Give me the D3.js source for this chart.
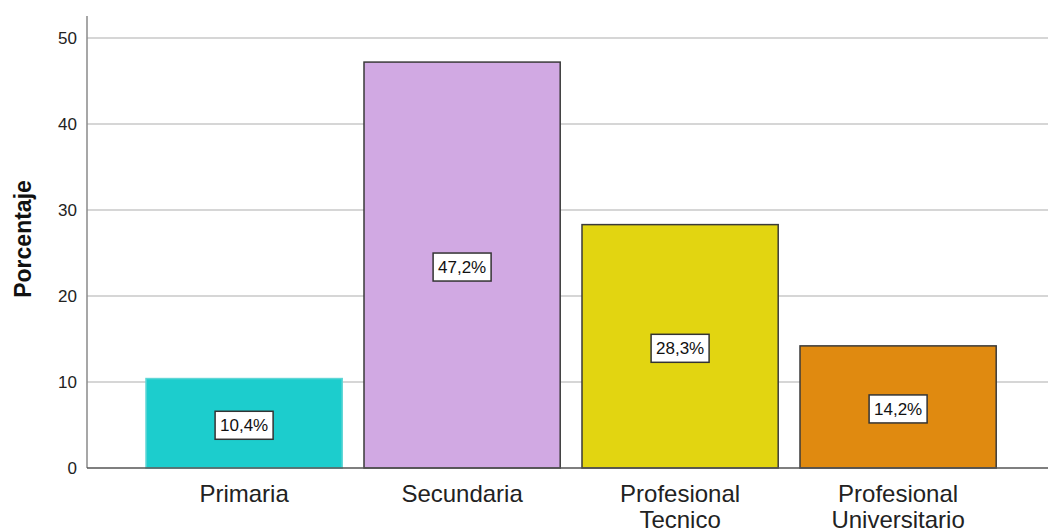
<!DOCTYPE html>
<head>
  <meta charset="utf-8">
  <script src="https://d3js.org/d3.v7.min.js"></script>
  <style>
    body { margin: 0; background: #fff; font-family: Arial, "Liberation Sans", sans-serif; }
    .tick text { font-size: 17px; fill: #222; }
    .grid line { stroke: #c8c8c8; stroke-width: 1.5px; }
    .cat { font-size: 24px; fill: #222; }
    .val { font-size: 17px; fill: #111; }
  </style>
</head>
<body>
  <div id="vis"></div>
  <script>
    // data
    var categories = [["Primaria"], ["Secundaria"], ["Profesional", "Tecnico"], ["Profesional", "Universitario"]];
    var values = [10.4, 47.2, 28.3, 14.2];
    var valueLabels = ["10,4%", "47,2%", "28,3%", "14,2%"];
    var colors = ["#1ccdcd", "#d1a9e3", "#e2d511", "#e08a10"];
    var strokes = ["#5fd6d6", "#3a3a3a", "#3a3a3a", "#3a3a3a"];
    var yTicks = [0, 10, 20, 30, 40, 50];

    var width = 1048, height = 529;
    var svg = d3.select("#vis").append("svg")
      .attr("width", width).attr("height", height);

    var x = d3.scaleBand()
      .domain(d3.range(values.length))
      .range([124.2, 1018])
      .paddingInner(0.1)
      .paddingOuter(0.1);

    var y = d3.scaleLinear()
      .domain([0, 50])
      .range([468, 38]);

    // grid
    svg.append("g").attr("class", "grid")
      .selectAll("line")
      .data(yTicks.slice(1))
      .enter().append("line")
      .attr("x1", 87).attr("x2", width)
      .attr("y1", function (d) { return y(d); })
      .attr("y2", function (d) { return y(d); });

    // y axis
    var yAxis = svg.append("g")
      .attr("transform", "translate(87,0)")
      .call(d3.axisLeft(y).tickValues(yTicks).tickSize(0).tickPadding(10));
    yAxis.select(".domain").remove();
    yAxis.selectAll(".tick text").attr("font-family", "Arial, 'Liberation Sans', sans-serif");

    svg.append("line")
      .attr("x1", 87).attr("x2", 87)
      .attr("y1", 16).attr("y2", 468)
      .attr("stroke", "#8a8a8a").attr("stroke-width", 1.5);

    // bars
    svg.selectAll(".bar")
      .data(values)
      .enter().append("rect")
      .attr("class", "bar")
      .attr("x", function (d, i) { return x(i); })
      .attr("y", function (d) { return y(d); })
      .attr("width", x.bandwidth())
      .attr("height", function (d) { return y(0) - y(d); })
      .attr("fill", function (d, i) { return colors[i]; })
      .attr("stroke", function (d, i) { return strokes[i]; })
      .attr("stroke-width", 1.5);

    // baseline
    svg.append("line")
      .attr("x1", 87).attr("x2", width)
      .attr("y1", y(0)).attr("y2", y(0))
      .attr("stroke", "#555").attr("stroke-width", 1.5);

    // value labels
    var vl = svg.selectAll(".vlab")
      .data(values)
      .enter().append("g")
      .attr("class", "vlab")
      .attr("transform", function (d, i) {
        return "translate(" + (x(i) + x.bandwidth() / 2) + "," + (y(d / 2) + 2) + ")";
      });
    vl.append("rect")
      .attr("x", -29).attr("y", -14)
      .attr("width", 58).attr("height", 28)
      .attr("fill", "#fff")
      .attr("stroke", "#333").attr("stroke-width", 1.5);
    vl.append("text")
      .attr("class", "val")
      .attr("text-anchor", "middle")
      .attr("dy", "0.36em")
      .text(function (d, i) { return valueLabels[i]; });

    // category labels
    var cl = svg.selectAll(".cat")
      .data(categories)
      .enter().append("text")
      .attr("class", "cat")
      .attr("text-anchor", "middle")
      .attr("x", function (d, i) { return x(i) + x.bandwidth() / 2; })
      .attr("y", 502);
    cl.selectAll("tspan")
      .data(function (d) { return d; })
      .enter().append("tspan")
      .attr("x", function () { return this.parentNode.getAttribute("x"); })
      .attr("dy", function (d, i) { return i === 0 ? 0 : 26; })
      .text(function (d) { return d; });

    // y title
    svg.append("text")
      .attr("transform", "translate(31,239) rotate(-90)")
      .attr("text-anchor", "middle")
      .attr("font-size", "23px")
      .attr("font-weight", "bold")
      .attr("fill", "#111")
      .text("Porcentaje");
  </script>
</body>
